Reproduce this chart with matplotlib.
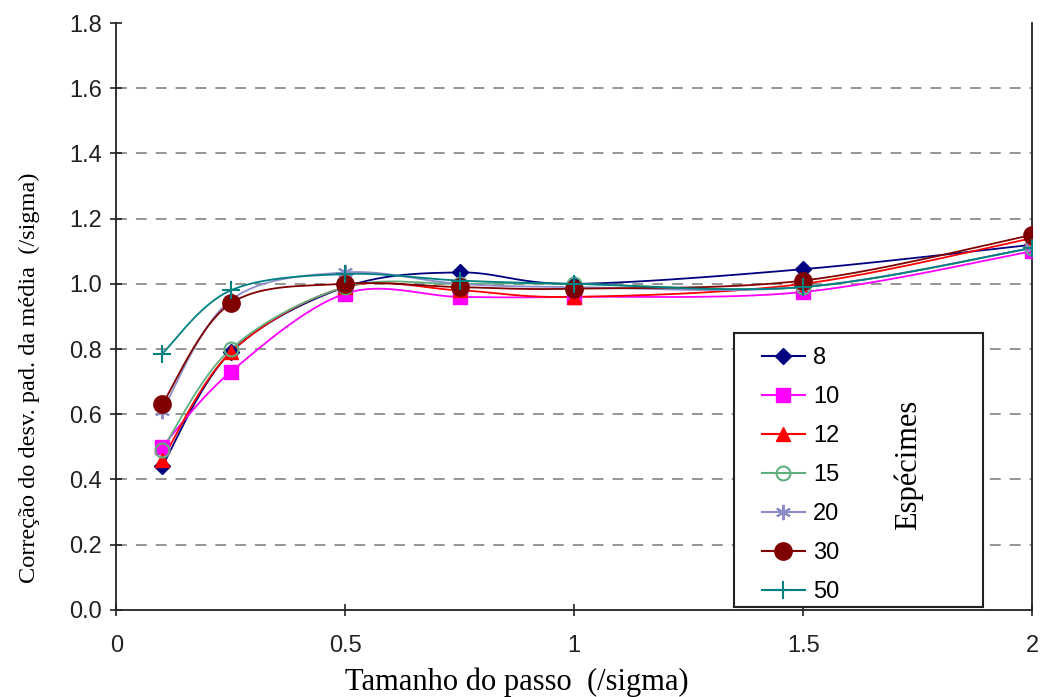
"""
Correção do desvio padrão da média em função do tamanho do passo,
para diferentes números de espécimes (curvas suavizadas, estilo Excel).
"""

import numpy as np
import matplotlib.pyplot as plt
from matplotlib.lines import Line2D
from matplotlib.patches import Rectangle


# ==================== Dados ====================

STEP = [0.1, 0.25, 0.5, 0.75, 1.0, 1.5, 2.0]

SERIES_LABELS = ["8", "10", "12", "15", "20", "30", "50"]

S8 = [0.44, 0.79, 0.99, 1.035, 1.00, 1.045, 1.12]
S10 = [0.50, 0.73, 0.97, 0.96, 0.96, 0.975, 1.10]
S12 = [0.46, 0.79, 0.99, 0.98, 0.96, 1.00, 1.14]
S15 = [0.49, 0.80, 0.99, 1.00, 1.00, 0.99, 1.11]
S20 = [0.61, 0.95, 1.035, 1.00, 0.99, 0.99, 1.11]
S30 = [0.63, 0.94, 1.00, 0.99, 0.985, 1.01, 1.15]
S50 = [0.785, 0.98, 1.03, 1.01, 1.00, 0.99, 1.11]

ALL_SERIES = [S8, S10, S12, S15, S20, S30, S50]

X_TICKS = [0, 0.5, 1, 1.5, 2]
X_TICK_LABELS = ["0", "0.5", "1", "1.5", "2"]
Y_TICKS = [0.0, 0.2, 0.4, 0.6, 0.8, 1.0, 1.2, 1.4, 1.6, 1.8]

# ==================== Estilos ====================

COLORS = ["#000080", "#FF00FF", "#FF0000", "#5FAF7F", "#8C8CC8", "#800000", "#008080"]
MARKERS = ["D", "s", "^", "o", (6, 2, 0), "o", "+"]
MSIZES = [8, 10, 10, 10, 11, 12, 13]
FACES = ["#000080", "#FF00FF", "#FF0000", "none", "#8C8CC8", "#800000", "#008080"]

SANS = ["Liberation Sans", "DejaVu Sans"]
SERIF = ["Liberation Serif", "DejaVu Serif"]


def smooth_curve(x, y, n=30):
    """Curva de Bézier cúbica pelos pontos (como a linha suavizada do Excel)."""
    p = np.column_stack([x, y]).astype(float)
    pts = []
    for i in range(len(p) - 1):
        p0 = p[i - 1] if i > 0 else p[i]
        p1, p2 = p[i], p[i + 1]
        p3 = p[i + 2] if i + 2 < len(p) else p[i + 1]
        c1 = p1 + (p2 - p0) / 6
        c2 = p2 - (p3 - p1) / 6
        t = np.linspace(0, 1, n)[:, None]
        seg = ((1 - t) ** 3 * p1 + 3 * (1 - t) ** 2 * t * c1
               + 3 * (1 - t) * t ** 2 * c2 + t ** 3 * p2)
        pts.append(seg if i == 0 else seg[1:])
    pts = np.vstack(pts)
    return pts[:, 0], pts[:, 1]


fig = plt.figure(figsize=(10.47, 6.97), dpi=100)
ax = fig.add_axes([0.111, 0.125, 0.875, 0.842])

for yv in Y_TICKS[1:-1]:
    ax.axhline(yv, color="#8c8c8c", linestyle=(0, (6, 5)), linewidth=1.3, zorder=0)

handles = []
for vals, col, mk, ms, fc, lab in zip(ALL_SERIES, COLORS, MARKERS, MSIZES, FACES, SERIES_LABELS):
    xs, ys = smooth_curve(STEP, vals)
    ax.plot(xs, ys, color=col, linewidth=1.3, zorder=2)
    mew = 1.5 if mk in ("+", "o") or isinstance(mk, tuple) else 1.0
    ax.plot(STEP, vals, linestyle="none", marker=mk, markersize=ms, color=col,
            markerfacecolor=fc, markeredgecolor=col, markeredgewidth=mew, zorder=3)
    handles.append(Line2D([], [], color=col, linewidth=1.5, marker=mk, markersize=ms,
                          markerfacecolor=fc, markeredgecolor=col, markeredgewidth=mew, label=lab))

ax.set_xlim(0, 2)
ax.set_ylim(0, 1.8)
ax.tick_params(axis="both", direction="inout", length=8, width=1.2, colors="#222222")
ax.tick_params(axis="x", pad=14)
ax.tick_params(axis="y", pad=6)
ax.set_xticks(X_TICKS)
ax.set_xticklabels(X_TICK_LABELS, family=SANS, fontsize=17)
ax.set_yticks(Y_TICKS)
ax.set_yticklabels([f"{v:.1f}" for v in Y_TICKS], family=SANS, fontsize=17)
ax.spines["top"].set_visible(False)
for s in ["left", "bottom", "right"]:
    ax.spines[s].set_linewidth(1.3)
    ax.spines[s].set_color("#222222")

ax.set_xlabel("Tamanho do passo  (/sigma)", family=SERIF, fontsize=22)
ax.xaxis.set_label_coords(0.437, -0.099)
ax.set_ylabel("Correção do desv. pad. da média  (/sigma)", family=SERIF, fontsize=17.6)
ax.yaxis.set_label_coords(-0.083, 0.395)

# caixa da legenda
ax.add_patch(Rectangle((0.674, 0.005), 0.272, 0.467, transform=ax.transAxes,
                       facecolor="white", edgecolor="#222222", linewidth=1.5, zorder=8))
leg = ax.legend(handles=handles, loc="upper left", bbox_to_anchor=(0.705, 0.448),
                borderaxespad=0, borderpad=0, frameon=False, handlelength=1.8,
                labelspacing=0.72, handletextpad=0.35,
                prop={"family": SANS, "size": 17})
leg.set_zorder(9)

ax.text(0.865, 0.247, "Espécimes", transform=ax.transAxes, rotation=90,
        family=SERIF, fontsize=22, ha="center", va="center", zorder=10)

fig.savefig("out.png", dpi=100)
